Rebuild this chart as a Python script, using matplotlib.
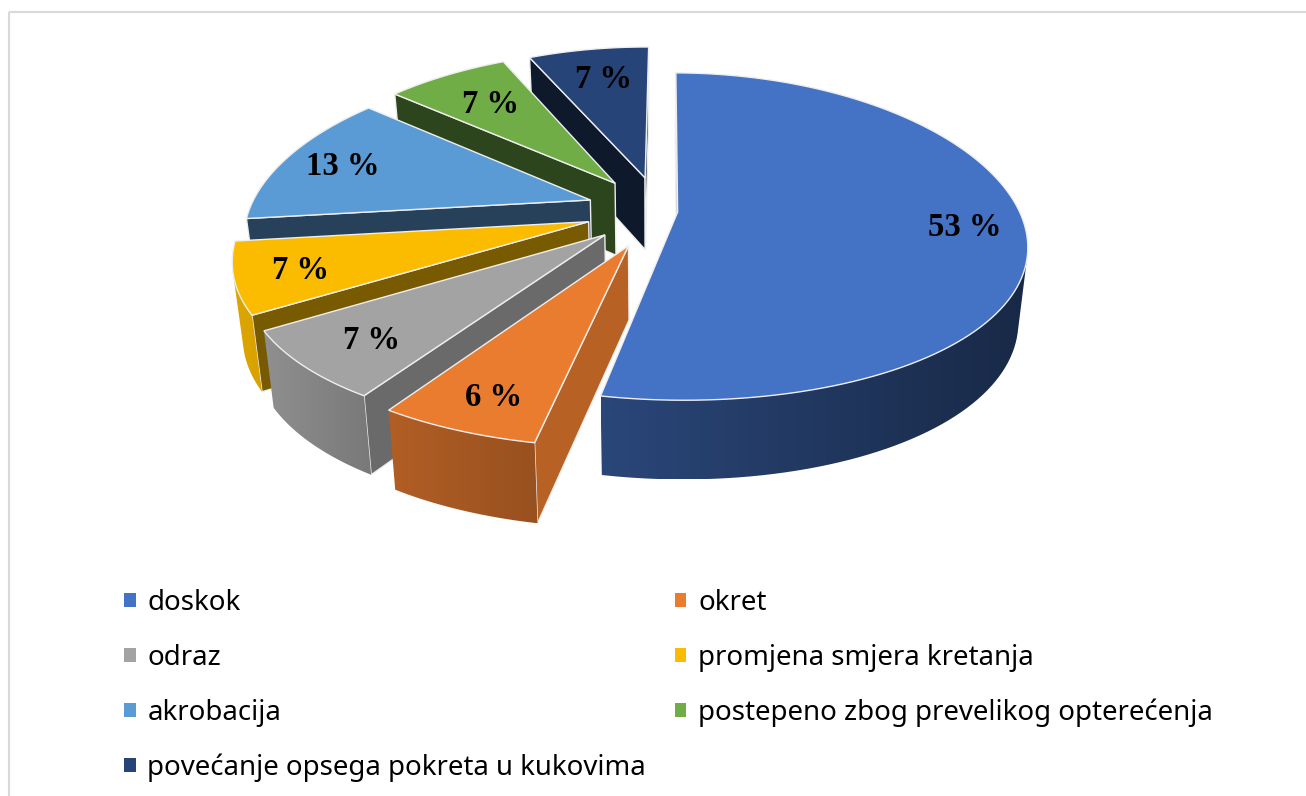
import matplotlib
matplotlib.use('Agg')
import matplotlib.pyplot as plt
import numpy as np
from matplotlib.patches import Patch, Polygon, Rectangle

# data
kategorije = ['doskok', 'okret', 'odraz', 'promjena smjera kretanja', 'akrobacija',
              'postepeno zbog prevelikog opterećenja', 'povećanje opsega pokreta u kukovima']
postoci = [53, 6, 7, 7, 13, 7, 7]
oznake = ['53 %', '6 %', '7 %', '7 %', '13 %', '7 %', '7 %']

# styles
boje = ['#4472c4', '#ea7c30', '#a3a3a3', '#fbbc00', '#5b9bd5', '#70ad47', '#264478']
pomak_x = [0.075, -0.066, -0.134, -0.183, -0.183, -0.112, -0.021]
pomak_y = [0.0, -0.205, -0.14, -0.06, 0.076, 0.185, 0.22]
sjena_zid = [0.5, 0.78, 0.65, 0.48, 0.42, 0.40, 0.37]
sjena_rub = [(0.62, 0.36), (0.76, 0.65), (0.88, 0.74), (0.88, 0.86), (0.5, 0.5), (0.5, 0.5), (0.5, 0.5)]
polozaj_oznake = [0.82, 0.835, 0.81, 0.83, 0.823, 0.73, 0.755]
POCETNI_KUT = 0.5

# projection of the tilted pie
CX, CY, RX, RY, KX, KY, DUB = 652, 212, 342, 160, 0.20, 0.15, 73


def proj(X, Y):
    return CX + RX * X / (1 + KX * Y), CY - RY * Y / (1 + KY * Y)


def dolje(X, Y):
    x, y = proj(X, Y)
    return CX + (x - CX) * 0.975, y + DUB * (1 / (1 + KY * Y)) ** 0.5


def shade(boja, f):
    return tuple(np.array(matplotlib.colors.to_rgb(boja)) * f)


def area(pts):
    x, y = np.array(pts).T
    return np.sum(x * np.roll(y, -1) - np.roll(x, -1) * y)


fig = plt.figure(figsize=(13.06, 7.96), dpi=100)
ax = fig.add_axes([0, 0, 1, 1])
ax.axis('off')

ax.add_patch(Rectangle((9, 12), 1320, 810, fill=False, ec='#d9d9d9', lw=1.5))

kutovi = np.cumsum([0] + postoci) / sum(postoci) * 2 * np.pi + np.radians(POCETNI_KUT)

# far slices first
red = sorted(range(len(postoci)), key=lambda i: -pomak_y[i])
EDGE = '#eeeeee'

for i in red:
    ax0, ay0 = pomak_x[i], pomak_y[i]
    t = np.linspace(kutovi[i], kutovi[i + 1], 120)
    X = ax0 + np.sin(t)
    Y = ay0 + np.cos(t)
    gore = [proj(a, b) for a, b in zip(X, Y)]
    dno = [dolje(a, b) for a, b in zip(X, Y)]
    v = proj(ax0, ay0)
    vd = dolje(ax0, ay0)

    # radial walls
    for q in ([v, gore[0], dno[0], vd], [gore[-1], v, vd, dno[-1]]):
        if area(q) < 0:
            ax.add_patch(Polygon(q, fc=shade(boje[i], sjena_zid[i]), ec=EDGE, lw=1, zorder=2))
    # outer rim with left to right gradient, only where it faces us
    vid = [j for j in range(len(gore) - 1) if area([gore[j], gore[j + 1], dno[j + 1], dno[j]]) < 0]
    if vid:
        vid = vid + [vid[-1] + 1]
        obris = [gore[j] for j in vid] + [dno[j] for j in vid[::-1]]
        xo, yo = np.array(obris).T
        f = np.linspace(sjena_rub[i][0], sjena_rub[i][1], 256)
        grad = np.array([[shade(boje[i], a) for a in f]])
        im = ax.imshow(grad, extent=(xo.min(), xo.max(), yo.max(), yo.min()), aspect='auto', zorder=2)
        im.set_clip_path(Polygon(obris, transform=ax.transData))
    ax.add_patch(Polygon([v] + gore, fc=boje[i], ec=EDGE, lw=1, zorder=2))

for i in range(len(postoci)):
    mid = (kutovi[i] + kutovi[i + 1]) / 2
    lx, ly = proj(pomak_x[i] + polozaj_oznake[i] * np.sin(mid), pomak_y[i] + polozaj_oznake[i] * np.cos(mid))
    ax.text(lx + 3, ly + 2, oznake[i], family='Liberation Serif', weight='bold', fontsize=23.5,
            ha='center', va='center', color='black', zorder=5)

ax.set_xlim(0, 1306)
ax.set_ylim(796, 0)

# row-wise legend like the original, matplotlib fills by column
poredak = [0, 2, 4, 6, 1, 3, 5]
ruke = [Patch(fc=boje[i], ec='none', label=kategorije[i]) for i in poredak]
ax.legend(handles=ruke, ncols=2, loc='upper left', bbox_to_anchor=(124 / 1306, 1 - 589 / 796),
          frameon=False, prop={'family': 'Noto Sans', 'size': 19.9}, handlelength=0.42, handleheight=0.42,
          handletextpad=0.43, columnspacing=1.03, labelspacing=0.97, borderpad=0, borderaxespad=0)

fig.savefig('out.png', dpi=100)
